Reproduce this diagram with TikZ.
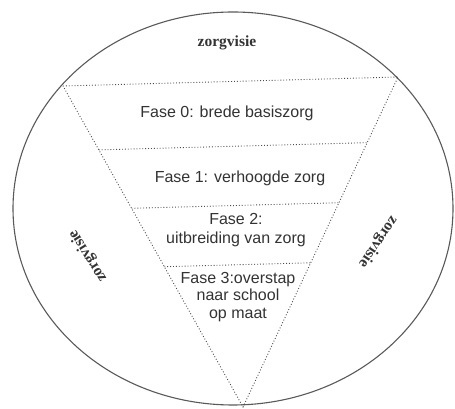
\documentclass[tikz,border=0pt]{standalone}
\usepackage{fontspec}
\setmainfont{Liberation Sans}
\newfontfamily\visiefont{Liberation Serif}
\usetikzlibrary{calc,shapes.geometric}
\begin{document}
\begin{tikzpicture}[x=1pt,y=1pt,
  rim/.style={draw=black!65, line width=1.1pt},
  tri/.style={draw=black!70, line width=0.9pt, dotted},
  fase/.style={text=black!80, font=\fontsize{16}{18.5}\selectfont, align=center, inner sep=0pt},
  visie/.style={text=black!80, font=\visiefont\bfseries\fontsize{15.5}{18}\selectfont, inner sep=0pt}]
\useasboundingbox (0,0) rectangle (455,409);
% outer circle
\node[rim, ellipse, minimum width=440pt, minimum height=393pt, inner sep=0pt] (circ) at (233,200.5) {};
% triangle corners
\coordinate (TL) at (63,323);
\coordinate (TR) at (398,332);
\coordinate (AP) at (243,2);
% divider ends
\coordinate (L1) at ($(TL)!0.199!(AP)$);
\coordinate (R1) at ($(TR)!0.199!(AP)$);
\coordinate (L2) at ($(TL)!0.381!(AP)$);
\coordinate (R2) at ($(TR)!0.381!(AP)$);
\coordinate (L3) at ($(TL)!0.563!(AP)$);
\coordinate (R3) at ($(TR)!0.563!(AP)$);
\draw[tri] (TL) -- (TR) -- (AP) -- cycle;
\draw[tri] (L1) -- (R1);
\draw[tri] (L2) -- (R2);
\draw[tri] (L3) -- (R3);
% texts
\node[visie] (vtop) at (227,366) {zorgvisie};
\node[visie, rotate=122] (vleft) at (88,153) {zorgvisie};
\node[visie, rotate=236] (vright) at (378,167) {zorgvisie};
\node[fase] (f0) at (227,296) {Fase 0: brede basiszorg};
\node[fase] (f1) at (240,231) {Fase 1: verhoogde zorg};
\node[fase] (f2) at (236,179) {Fase 2:\\uitbreiding van zorg};
\node[fase, font=\fontsize{16}{17.5}\selectfont] (f3) at (238,112) {Fase 3:overstap\\naar school\\op maat};
\end{tikzpicture}
\end{document}
